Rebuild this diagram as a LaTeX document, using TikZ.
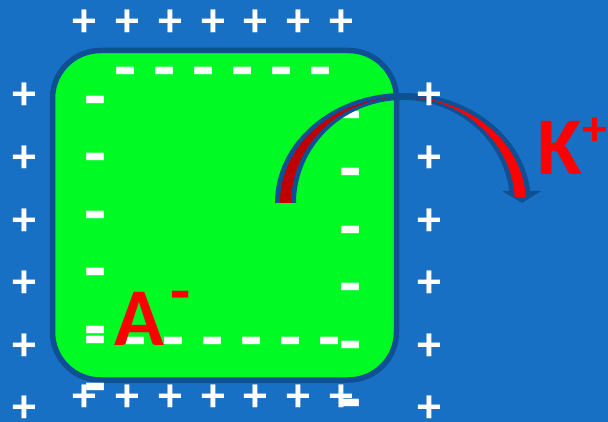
\documentclass[tikz,border=0pt]{standalone}
\usepackage{fontspec}
\setmainfont{Carlito}
\usetikzlibrary{positioning}

\definecolor{slideblue}{RGB}{24,112,196}
\definecolor{rimblue}{RGB}{14,80,146}
\definecolor{cellgreen}{RGB}{0,250,35}
\definecolor{ionred}{RGB}{255,0,0}
\definecolor{foldred}{RGB}{192,0,0}

\begin{document}
\begin{tikzpicture}[x=1pt,y=-1pt,
    cell/.style={draw=rimblue,fill=cellgreen,line width=5.5pt,rounded corners=48pt},
    pluscharge/.style={text=white,inner sep=0pt,font=\bfseries\fontsize{48}{48}\selectfont,
                       text height=33pt,text depth=0pt},
    minuscharge/.style={text=white,inner sep=0pt,font=\bfseries\fontsize{72}{72}\selectfont,
                        text height=45.4pt,text depth=0pt},
    ion/.style={text=ionred,inner sep=0pt,anchor=base,font=\bfseries\fontsize{82}{82}\selectfont},
    ionsign/.style={text=ionred,inner sep=0pt,text depth=0pt},
]

% ---- Background ----------------------------------------------------------
\useasboundingbox (0,0) rectangle (608,422);
\fill[slideblue] (0,0) rectangle (608,422);

% ---- Cell ----------------------------------------------------------------
\draw[cell] (52.5,50.5) rectangle (396.5,380);

% ---- Negative charges inside ---------------------------------------------
\foreach \x [count=\i] in {126,165,204,243,282,321}
    \node[minuscharge] (mt\i) at (\x,69) {-};
\foreach \x [count=\i] in {136,174,213,252,291,330}
    \node[minuscharge] (mb\i) at (\x,339) {-};
\foreach \y [count=\i] in {98,155,213,270,328,338,385}
    \node[minuscharge] (ml\i) at (96,\y) {-};
\foreach \y [count=\i] in {113,170,228,285,343,401}
    \node[minuscharge] (mr\i) at (351,\y) {-};

% ---- Curved arrow --------------------------------------------------------
\fill[rimblue] (275,203) arc[start angle=180,end angle=354,x radius=128,y radius=110]
    -- (509.4,192.2) arc[start angle=354,end angle=180,x radius=107,y radius=103] -- cycle;
\fill[rimblue] (502,191) -- (541,191) -- (522,203) -- cycle;
\fill[foldred] (280,203) arc[start angle=180,end angle=270,x radius=123,y radius=106]
    arc[start angle=270,end angle=180,x radius=112,y radius=106] -- cycle;
\fill[ionred] (403,97) arc[start angle=270,end angle=357,x radius=123,y radius=106]
    -- (514.8,197.5) arc[start angle=357,end angle=270,x radius=112,y radius=106] -- cycle;

% ---- Positive charges outside --------------------------------------------
\foreach \x [count=\i] in {84,127,170,213,255,298,341} {
    \node[pluscharge] (pt\i) at (\x,20) {+};
    \node[pluscharge] (pb\i) at (\x,395) {+};
}
\foreach \y [count=\i] in {93,156,219,281,344,406} {
    \node[pluscharge] (pl\i) at (24,\y) {+};
    \node[pluscharge] (pr\i) at (429,\y) {+};
}

% ---- Ions ----------------------------------------------------------------
\node[ion] (kion) at (560,175) {K};
\node[ionsign,font=\bfseries\fontsize{50}{50}\selectfont,text height=30.5pt] (kplus) at (595,130) {+};
\node[ion] (aion) at (139,345) {A};
\node[ionsign,font=\bfseries\fontsize{66}{66}\selectfont,text height=41.6pt] (aminus) at (181,293) {-};

\end{tikzpicture}
\end{document}
